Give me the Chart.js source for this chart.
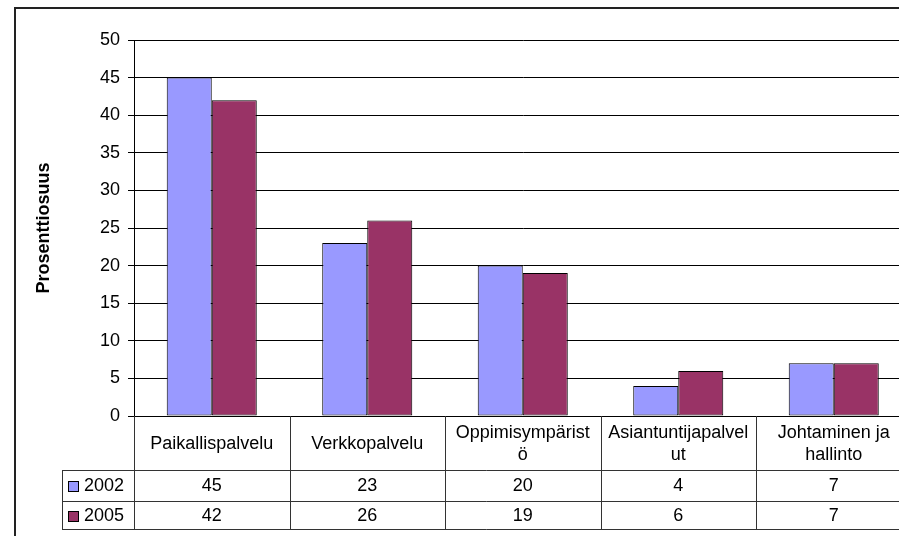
<!DOCTYPE html>
<html>
<head>
<meta charset="utf-8">
<script src="https://cdn.jsdelivr.net/npm/chart.js@4.4.1/dist/chart.umd.min.js"></script>
<style>
  html, body { margin: 0; padding: 0; background: #fff; overflow: hidden; }
  .chart-wrap { position: relative; width: 930px; height: 536px; }
  .frame { position: absolute; left: 14px; top: 7px; width: 1000px; height: 600px; border: 2px solid #222; }
  canvas { position: absolute; left: 0; top: 0; }
</style>
</head>
<body>
<div class="chart-wrap">
  <div class="frame"></div>
  <canvas id="chart" width="930" height="536"></canvas>
</div>
<script>
// Data
const categories = [
  ['Paikallispalvelu'],
  ['Verkkopalvelu'],
  ['Oppimisympärist', 'ö'],
  ['Asiantuntijapalvel', 'ut'],
  ['Johtaminen ja', 'hallinto']
];
const seriesNames = ['2002', '2005'];
const values2002 = [45, 23, 20, 4, 7];
const values2005 = [42, 26, 19, 6, 7];
const yMin = 0;
const yMax = 50;
const yStep = 5;

const FONT = "'Liberation Sans', Arial, sans-serif";
const colors = ['#9999FF', '#993366'];

// Draws the Excel style data table under the x axis
const dataTablePlugin = {
  id: 'dataTable',
  afterDraw(chart) {
    const ctx = chart.ctx;
    const xScale = chart.scales.x;
    const area = chart.chartArea;
    const step = (area.right - area.left) / categories.length;
    const top = area.bottom;
    const headerBottom = top + 54;
    const row1Bottom = headerBottom + 31;
    const row2Bottom = row1Bottom + 28;
    const legendLeft = 62;
    const right = area.right;
    const rows = [values2002, values2005];

    ctx.save();
    ctx.strokeStyle = '#333';
    ctx.lineWidth = 1;
    ctx.beginPath();
    // horizontal lines
    [headerBottom, row1Bottom, row2Bottom].forEach(y => {
      ctx.moveTo(legendLeft, Math.round(y) + 0.5);
      ctx.lineTo(right, Math.round(y) + 0.5);
    });
    // legend column left edge
    ctx.moveTo(legendLeft + 0.5, headerBottom);
    ctx.lineTo(legendLeft + 0.5, row2Bottom);
    // category boundaries
    for (let i = 0; i <= categories.length; i++) {
      const x = Math.round(xScale.getPixelForValue(i) - step / 2) + 0.5;
      ctx.moveTo(x, top);
      ctx.lineTo(x, row2Bottom);
    }
    ctx.stroke();

    ctx.fillStyle = '#000';
    ctx.font = '18px ' + FONT;
    ctx.textAlign = 'center';
    ctx.textBaseline = 'middle';

    // header labels
    const headerMid = (top + headerBottom) / 2 + 1;
    const lineH = 22;
    categories.forEach((lines, i) => {
      const cx = xScale.getPixelForValue(i);
      const y0 = headerMid - (lines.length - 1) * lineH / 2;
      lines.forEach((txt, j) => ctx.fillText(txt, cx, y0 + j * lineH));
    });

    // values
    const rowMids = [(headerBottom + row1Bottom) / 2 + 1, (row1Bottom + row2Bottom) / 2 + 1];
    rows.forEach((vals, r) => {
      vals.forEach((v, i) => {
        ctx.fillText(String(v), xScale.getPixelForValue(i), rowMids[r]);
      });
    });

    // legend keys
    ctx.textAlign = 'left';
    seriesNames.forEach((name, r) => {
      const y = rowMids[r];
      ctx.fillStyle = colors[r];
      ctx.fillRect(68.5, Math.round(y - 5.5) + 0.5, 10, 10);
      ctx.strokeStyle = '#000';
      ctx.strokeRect(68.5, Math.round(y - 5.5) + 0.5, 10, 10);
      ctx.fillStyle = '#000';
      ctx.fillText(name, 84, y);
    });
    ctx.restore();
  }
};

const ctx = document.getElementById('chart').getContext('2d');

new Chart(ctx, {
  type: 'bar',
  data: {
    labels: categories,
    datasets: [{
      label: seriesNames[0],
      data: values2002,
      backgroundColor: colors[0],
      borderColor: '#000',
      borderWidth: 1,
      borderSkipped: false
    }, {
      label: seriesNames[1],
      data: values2005,
      backgroundColor: colors[1],
      borderColor: '#000',
      borderWidth: 1,
      borderSkipped: false
    }]
  },
  options: {
    responsive: false,
    animation: false,
    barPercentage: 1,
    categoryPercentage: 0.579,
    layout: {
      padding: { left: 0, top: 40, right: 18.5, bottom: 120 }
    },
    plugins: {
      legend: { display: false },
      tooltip: { enabled: false }
    },
    scales: {
      x: {
        grid: { display: false },
        border: { display: true, color: '#000', width: 1 },
        ticks: { display: false },
        afterFit(scale) { scale.height = 0; }
      },
      y: {
        min: yMin,
        max: yMax,
        ticks: {
          stepSize: yStep,
          color: '#000',
          padding: 8,
          font: { family: FONT, size: 18 }
        },
        grid: { color: '#000', lineWidth: 1, tickLength: 6 },
        border: { color: '#000', width: 1 },
        title: {
          display: true,
          text: 'Prosenttiosuus',
          color: '#000',
          font: { family: FONT, size: 18, weight: 'bold' },
          padding: { top: 33, bottom: 0 }
        },
        afterFit(scale) { scale.width = 134; }
      }
    }
  },
  plugins: [dataTablePlugin]
});
</script>
</body>
</html>
